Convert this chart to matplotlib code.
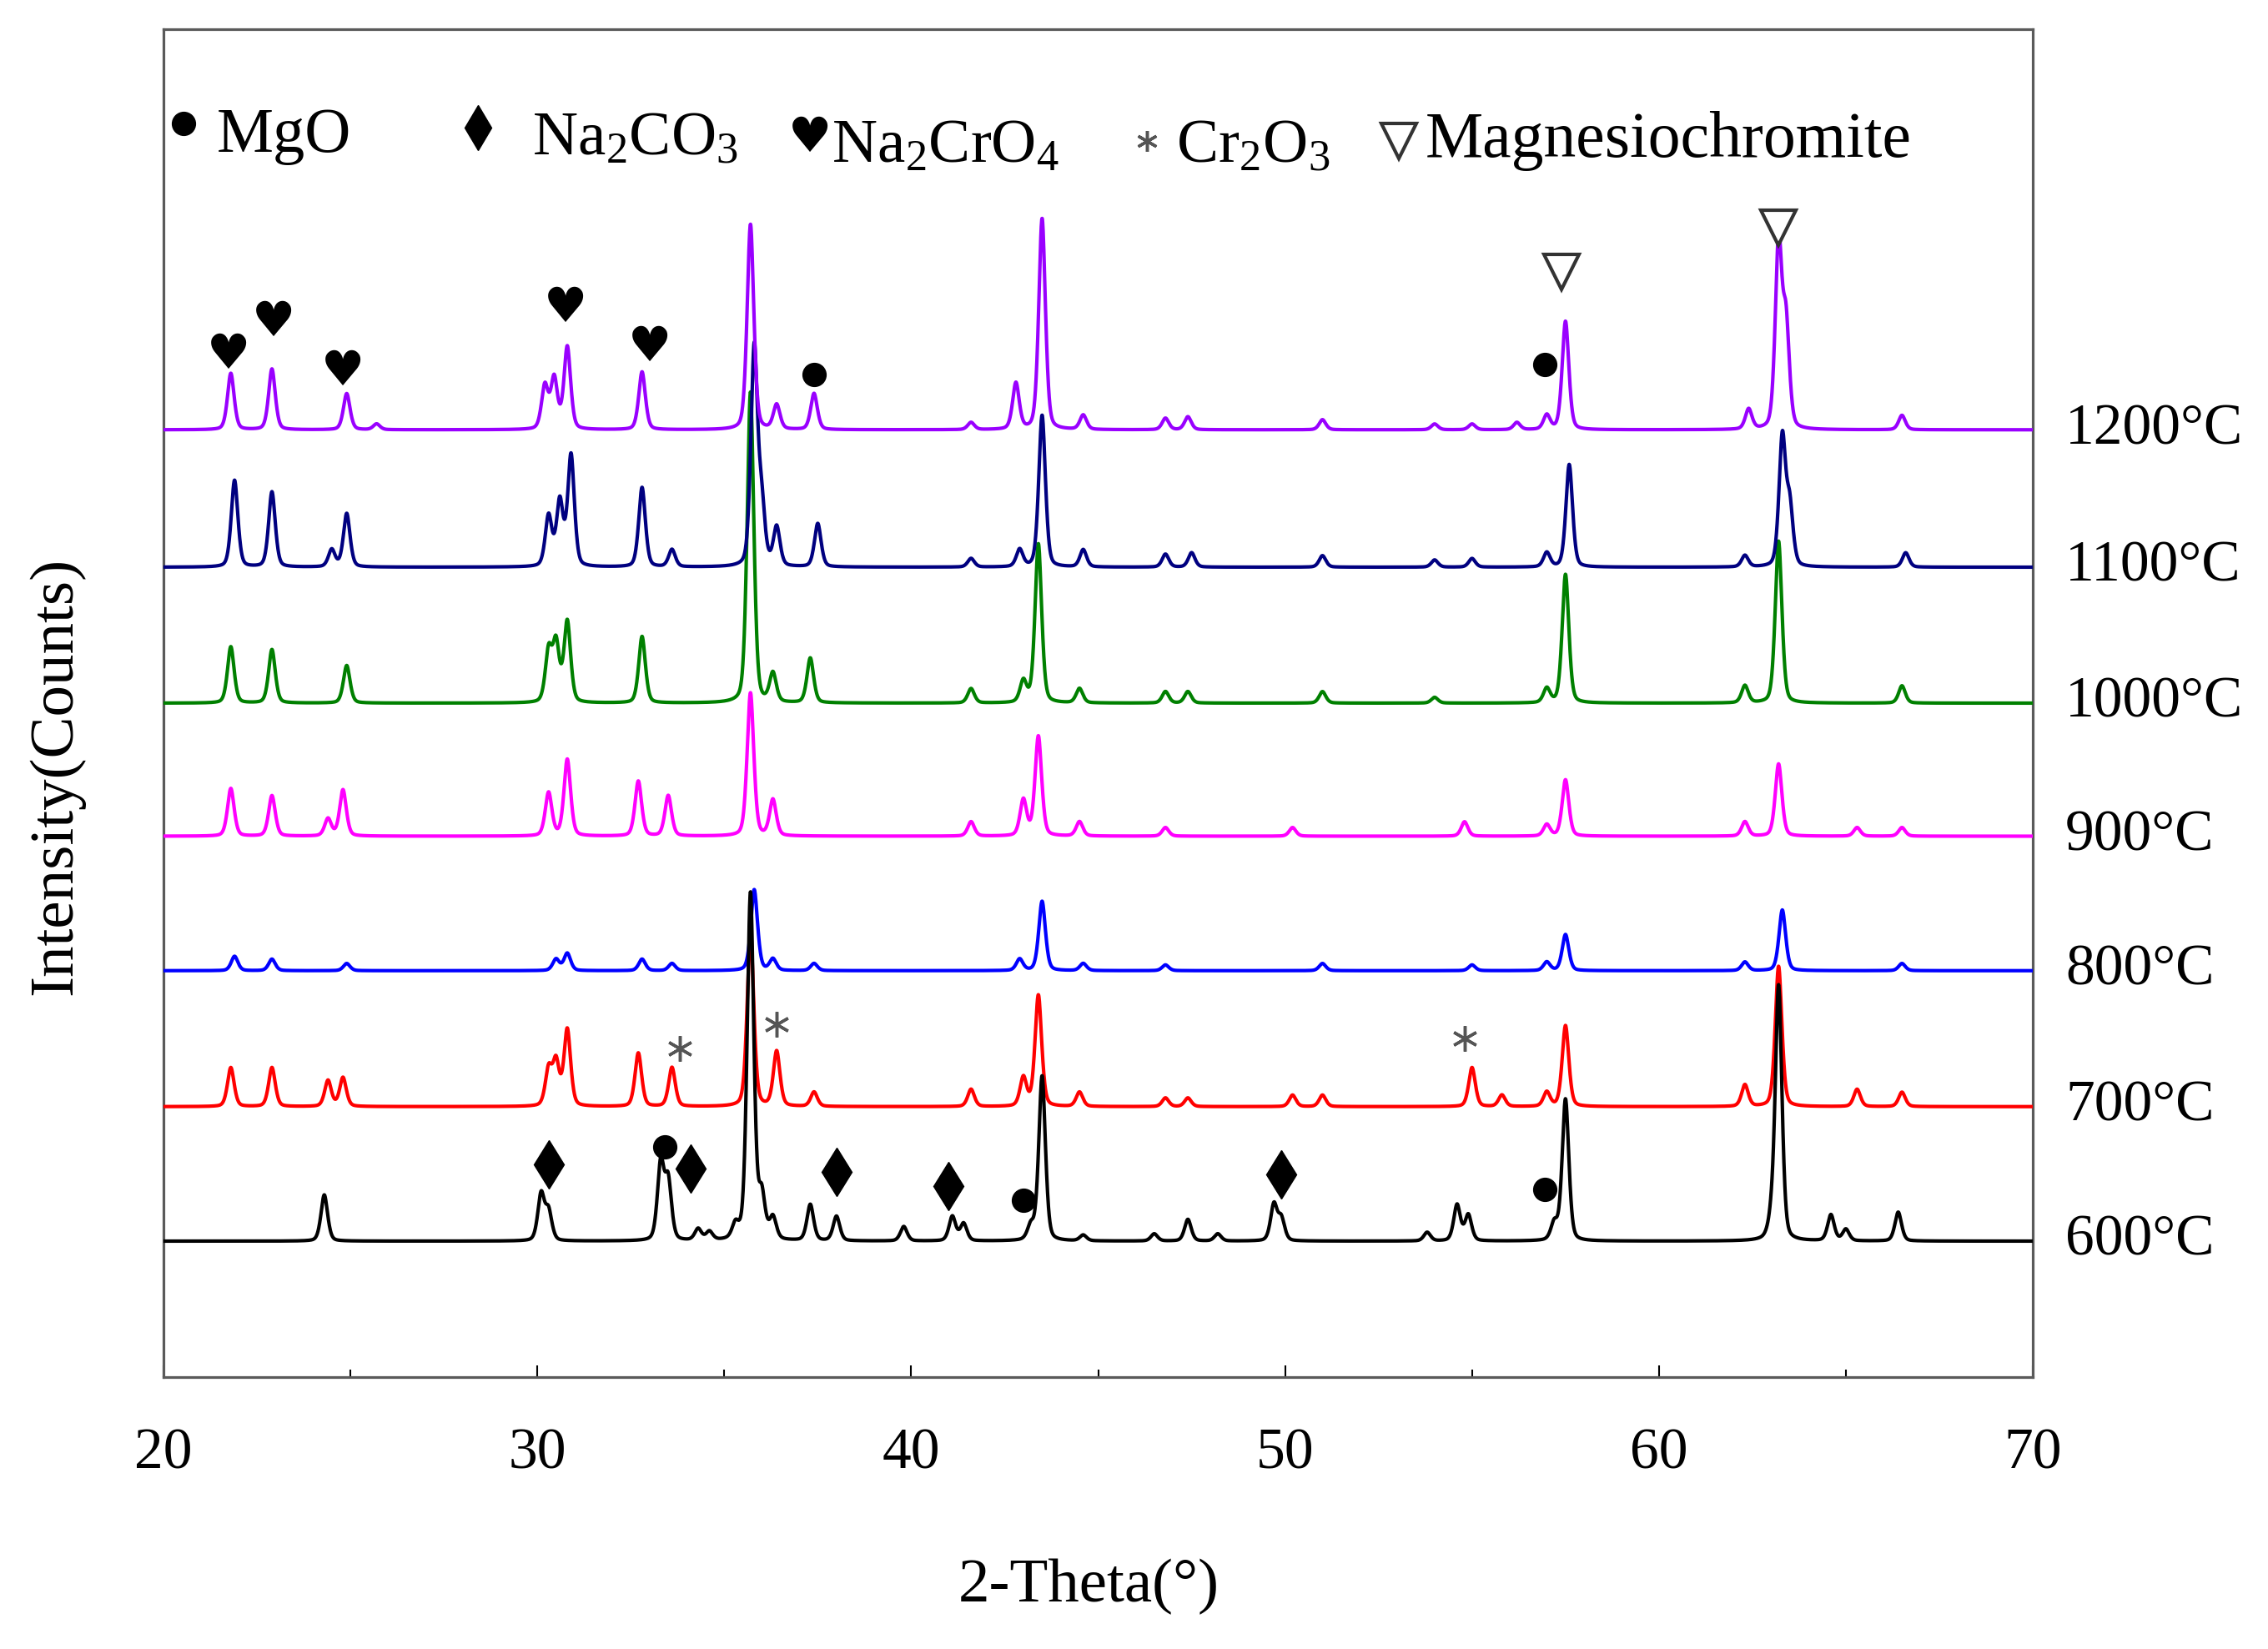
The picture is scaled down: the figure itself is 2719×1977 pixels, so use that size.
#XRD patterns of the roasted samples, 600-1200 C, stacked

import numpy as np
import matplotlib
matplotlib.use('Agg')
import matplotlib.pyplot as plt

plt.rcParams['font.family'] = ['Liberation Serif', 'DejaVu Sans']
plt.rcParams['mathtext.fontset'] = 'custom'
plt.rcParams['mathtext.rm'] = 'Liberation Serif'
plt.rcParams['mathtext.it'] = 'Liberation Serif:italic'

# temperature labels and the vertical offset of each trace
temps = ['600°C', '700°C', '800°C', '900°C', '1000°C', '1100°C', '1200°C']
offsets = [94, 187, 281, 374, 466, 560, 655]
colors = ['black', '#ff0000', '#0000ff', '#ff00ff', '#008000', '#000080', '#9900ff']

# (2-theta, height) of the peaks
peaks_600 = [(24.3, 32), (30.1, 32), (30.3, 20), (33.3, 53), (33.5, 40), (34.3, 8), (34.6, 6),
             (35.3, 10), (35.7, 240), (36.0, 30), (36.3, 15), (37.3, 25), (38.0, 17), (39.8, 10),
             (41.1, 17), (41.4, 12), (43.2, 10), (43.5, 114), (44.6, 4), (46.5, 5), (47.4, 15),
             (48.2, 5), (49.7, 25), (49.9, 15), (53.8, 6), (54.6, 25), (54.9, 18), (57.2, 12),
             (57.5, 98), (63.0, 10), (63.2, 176), (64.6, 18), (65.0, 8), (66.4, 20)]
peaks_700 = [(21.8, 27), (22.9, 27), (24.4, 18), (24.8, 20), (30.3, 25), (30.5, 30), (30.8, 53),
             (32.7, 37), (33.6, 27), (35.7, 120), (36.4, 38), (37.4, 10), (41.6, 12), (43.0, 20),
             (43.4, 77), (44.5, 10), (46.8, 6), (47.4, 6), (50.2, 8), (51.0, 8), (55.0, 27),
             (55.8, 8), (57.0, 10), (57.5, 56), (62.3, 15), (63.2, 97), (65.3, 12), (66.5, 10)]
peaks_800 = [(21.9, 10), (22.9, 8), (24.9, 5), (30.5, 8), (30.8, 12), (32.8, 8), (33.6, 5),
             (35.8, 56), (36.3, 8), (37.4, 5), (42.9, 8), (43.5, 48), (44.6, 5), (46.8, 4),
             (51.0, 5), (55.0, 4), (57.0, 6), (57.5, 25), (62.3, 6), (63.3, 42), (66.5, 5)]
peaks_900 = [(21.8, 33), (22.9, 28), (24.4, 12), (24.8, 32), (30.3, 30), (30.8, 53), (32.7, 38),
             (33.5, 28), (35.7, 99), (36.3, 25), (41.6, 10), (43.0, 25), (43.4, 69), (44.5, 10),
             (46.8, 6), (50.2, 6), (54.8, 10), (57.0, 8), (57.5, 39), (62.3, 10), (63.2, 50),
             (65.3, 6), (66.5, 6)]
peaks_1000 = [(21.8, 39), (22.9, 37), (24.9, 26), (30.3, 35), (30.5, 40), (30.8, 56), (32.8, 46),
              (35.7, 215), (36.3, 20), (37.3, 31), (41.6, 10), (43.0, 15), (43.4, 110), (44.5, 10),
              (46.8, 8), (47.4, 8), (51.0, 8), (54.0, 4), (57.0, 10), (57.5, 89), (62.3, 12),
              (63.2, 112), (66.5, 12)]
peaks_1100 = [(21.9, 60), (22.9, 52), (24.5, 12), (24.9, 37), (30.3, 35), (30.6, 45), (30.9, 77),
              (32.8, 55), (33.6, 12), (35.8, 150), (36.0, 40), (36.4, 27), (37.5, 30), (41.6, 6),
              (42.9, 12), (43.5, 105), (44.6, 12), (46.8, 9), (47.5, 10), (51.0, 8), (54.0, 5),
              (55.0, 6), (57.0, 10), (57.6, 71), (62.3, 8), (63.3, 89), (63.5, 40), (66.6, 10)]
peaks_1200 = [(21.8, 39), (22.9, 42), (24.9, 25), (25.7, 4), (30.2, 30), (30.45, 35), (30.8, 57),
              (32.8, 40), (35.7, 142), (36.4, 17), (37.4, 25), (41.6, 5), (42.8, 32), (43.5, 146),
              (44.6, 10), (46.8, 8), (47.4, 9), (51.0, 7), (54.0, 4), (55.0, 4), (56.2, 5),
              (57.0, 10), (57.5, 75), (62.4, 14), (63.2, 128), (63.4, 70), (66.5, 10)]
all_peaks = [peaks_600, peaks_700, peaks_800, peaks_900, peaks_1000, peaks_1100, peaks_1200]

# phase marks placed over the peaks (2-theta, height on the plot)
heart_x = [21.75, 22.95, 24.8, 30.75, 33.0]
heart_y = [707, 729, 695, 739, 712]
dot_x = [37.4, 56.95, 33.4, 43.0, 56.95]
dot_y = [693, 700, 159, 122, 130]
tri_x = [57.4, 63.2]
tri_y = [764, 795]
star_x = [33.8, 36.4, 54.8]
star_y = [227, 244, 234]
diamond_x = [30.3, 34.1, 38.0, 41.0, 49.9]
diamond_y = [147, 144, 142, 132, 140]

two_theta = np.linspace(20, 70, 8000)


def pattern(peaks, base):
    y = np.full_like(two_theta, float(base))
    for pos, h in peaks:
        d = two_theta - pos
        gauss = np.exp(-0.5 * (d / 0.095) ** 2)
        lorentz = 1 / (1 + (d / 0.09) ** 2)
        y += h * (0.6 * gauss + 0.4 * lorentz)
    return y


fig = plt.figure(figsize=(27.19, 19.77), dpi=100)
ax = fig.add_axes([0.0721, 0.1649, 0.8242, 0.8174])

for i in range(len(temps)):
    z = 10 if i == 0 else 2 + i
    ax.plot(two_theta, pattern(all_peaks[i], offsets[i]), color=colors[i], linewidth=3, zorder=z)
    ax.text(1.0174, offsets[i], temps[i], transform=ax.get_yaxis_transform(),
            fontsize=50, va='center', ha='left')

# markers on the peaks
for x, y in zip(heart_x, heart_y):
    ax.text(x, y, '\u2665', fontsize=42, family='DejaVu Sans', ha='center', va='center', zorder=20)
ax.plot(dot_x, dot_y, 'o', color='black', markersize=20, zorder=20)
ax.plot(diamond_x, diamond_y, 'd', color='black', markersize=30, zorder=20)
ax.plot(tri_x, tri_y, 'v', markerfacecolor='white', markeredgecolor='#333333',
        markeredgewidth=3, markersize=30, zorder=20)
ax.plot(star_x, star_y, marker=(6, 2, 0), color='#555555', markeredgewidth=2.5,
        markersize=22, linestyle='none', zorder=20)

# legend row along the top
tr = ax.transAxes
ax.plot([0.0108], [0.9303], 'o', color='black', markersize=20, transform=tr)
ax.text(0.0286, 0.9088, 'MgO', fontsize=55, transform=tr, va='baseline')
ax.plot([0.168], [0.927], 'd', color='black', markersize=28, transform=tr)
ax.text(0.197, 0.9067, r'Na$_\mathregular{2}$CO$_\mathregular{3}$', fontsize=54, transform=tr, va='baseline')
ax.text(0.346, 0.9195, '\u2665', fontsize=42, family='DejaVu Sans', transform=tr, ha='center', va='center')
ax.text(0.3576, 0.9013, r'Na$_\mathregular{2}$CrO$_\mathregular{4}$', fontsize=54, transform=tr, va='baseline')
ax.plot([0.526], [0.917], marker=(6, 2, 0), color='#555555', markeredgewidth=2.5, markersize=18,
        transform=tr)
ax.text(0.5418, 0.9013, r'Cr$_\mathregular{2}$O$_\mathregular{3}$', fontsize=54, transform=tr, va='baseline')
ax.plot([0.661], [0.917], 'v', markerfacecolor='white', markeredgecolor='#333333',
        markeredgewidth=3, markersize=30, transform=tr)
ax.text(0.675, 0.9056, 'Magnesiochromite', fontsize=56, transform=tr, va='baseline')

ax.set_xlim(20, 70)
ax.set_ylim(0, 932)
ax.set_yticks([])
ax.set_xticks(range(20, 71, 10))
ax.set_xticks(range(25, 70, 10), minor=True)
ax.tick_params(axis='x', which='major', direction='in', length=10, width=1.5, labelsize=50, pad=44)
ax.tick_params(axis='x', which='minor', direction='in', length=6.5, width=1.5)
for s in ax.spines.values():
    s.set_color('#5a5a5a')
    s.set_linewidth(2.3)

ax.set_xlabel('2-Theta(°)', fontsize=54)
ax.xaxis.set_label_coords(0.495, -0.135)
ax.set_ylabel('Intensity(Counts)', fontsize=54)
ax.yaxis.set_label_coords(-0.0425, 0.446)

fig.savefig('out.png', dpi=100)
